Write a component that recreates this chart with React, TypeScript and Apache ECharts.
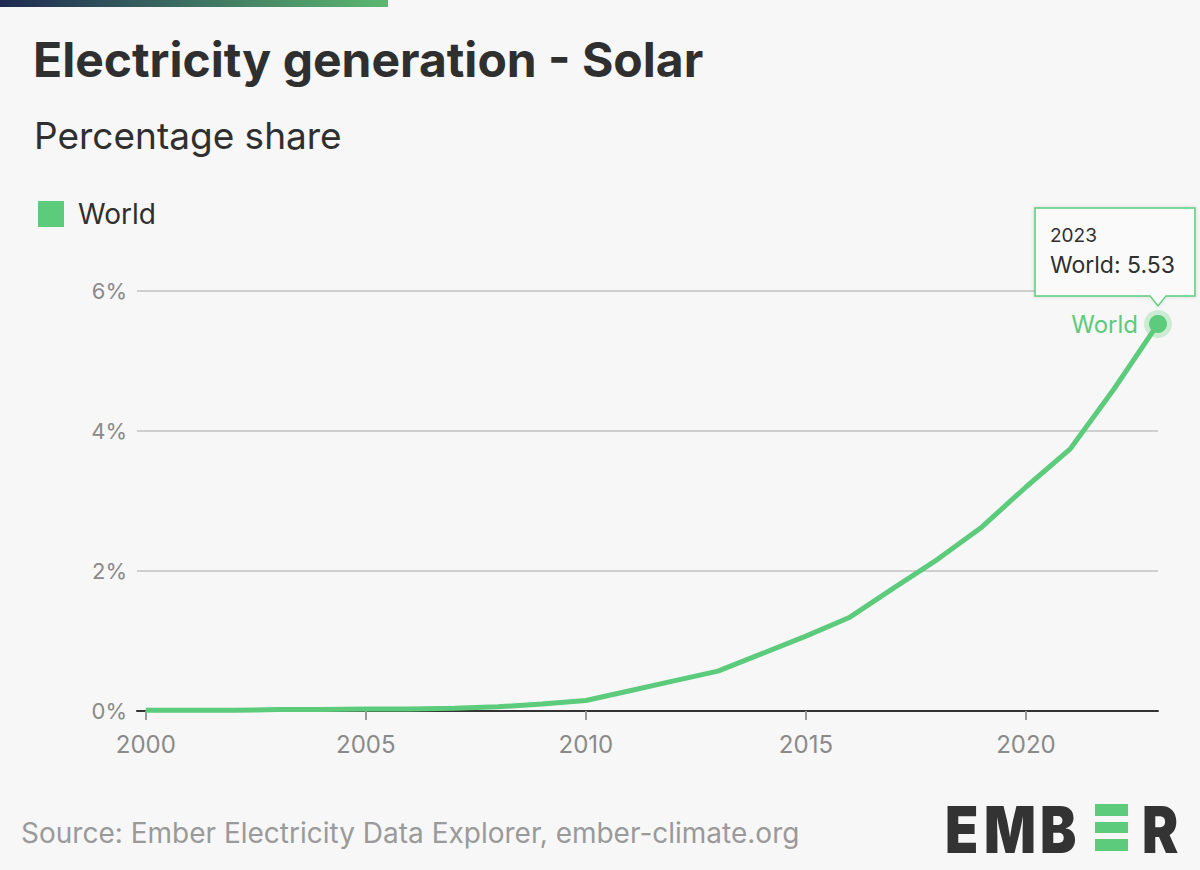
import React, { useEffect, useRef } from "react";
import * as echarts from "echarts";

const years = [2000,2001,2002,2003,2004,2005,2006,2007,2008,2009,2010,2011,2012,2013,2014,2015,2016,2017,2018,2019,2020,2021,2022,2023];
const worldShare = [0.01,0.01,0.01,0.02,0.02,0.03,0.03,0.04,0.06,0.10,0.15,0.29,0.43,0.57,0.82,1.07,1.34,1.76,2.17,2.63,3.20,3.74,4.60,5.53];
const xTickYears = [2000, 2005, 2010, 2015, 2020];
const seriesName = "World";
const yTicks = { min: 0, max: 6, interval: 2 };
const titleText = "Electricity generation - Solar";
const subtitleText = "Percentage share";
const sourceText = "Source: Ember Electricity Data Explorer, ember-climate.org";

const GREEN = "#5ccb7b";
const DARK = "#2f2f2f";
const FONT = "Inter, 'Noto Sans', sans-serif";

export default function App() {
  const ref = useRef<HTMLDivElement>(null);
  useEffect(() => {
    document.body.style.margin = "0";
    const chart = echarts.init(ref.current!, null, { renderer: "svg" });
    const lastIdx = years.length - 1;
    const logoLetter = (t: string, x: number) => ({
      type: "text", x, y: 829, scaleX: 0.85,
      style: { text: t, fontSize: 64, fontWeight: 900, fill: "#333", fontFamily: FONT, verticalAlign: "middle" },
    });
    const option: any = {
      animation: false,
      backgroundColor: "#f7f7f7",
      textStyle: { fontFamily: FONT },
      title: [
        { text: titleText, left: 28, top: 30, textStyle: { fontSize: 48, fontWeight: 700, color: DARK, fontFamily: FONT } },
        { text: subtitleText, left: 29, top: 112, textStyle: { fontSize: 37, fontWeight: 400, color: DARK, fontFamily: FONT } },
      ],
      legend: {
        left: 38, top: 200, padding: 0, icon: "rect", itemWidth: 26, itemHeight: 26, itemGap: 20,
        textStyle: { fontSize: 28, color: DARK, padding: [0, 0, 0, 9], fontFamily: FONT },
        data: [seriesName],
      },
      grid: { left: 137, right: 42, top: 291, bottom: 159 },
      xAxis: {
        type: "value", min: 1999.8, max: 2023,
        axisLine: { lineStyle: { color: "#333", width: 2 } },
        axisTick: { customValues: xTickYears, length: 9, lineStyle: { color: "#999", width: 2 } },
        axisLabel: { customValues: xTickYears, formatter: (v: number) => String(v), fontSize: 24, color: "#8a8a8a", margin: 21, fontFamily: FONT },
        splitLine: { show: false },
      },
      yAxis: {
        type: "value", min: yTicks.min, max: yTicks.max, interval: yTicks.interval,
        axisLine: { show: false }, axisTick: { show: false },
        axisLabel: { formatter: "{value}%", fontSize: 22, color: "#8a8a8a", margin: 10, fontFamily: FONT },
        splitLine: { lineStyle: { color: "#cfcfcf", width: 2 } },
      },
      series: [
        {
          name: seriesName, type: "line", data: years.map((y, i) => [y, worldShare[i]]), symbol: "none",
          lineStyle: { color: GREEN, width: 5 }, itemStyle: { color: GREEN }, z: 3,
        },
        {
          type: "custom", data: [[years[lastIdx], worldShare[lastIdx]]], z: 10, silent: true,
          renderItem: (params: any, api: any) => {
            const p = api.coord([api.value(0), api.value(1)]);
            const x = p[0], y = p[1];
            const left = x - 123, right = x + 37, top = y - 116, bottom = y - 28;
            return {
              type: "group",
              children: [
                { type: "circle", shape: { cx: x, cy: y, r: 14 }, style: { fill: "rgba(92,203,123,0.28)" } },
                { type: "circle", shape: { cx: x, cy: y, r: 9 }, style: { fill: GREEN } },
                { type: "text", style: { text: seriesName, x: x - 20, y: y + 1, align: "right", verticalAlign: "middle", fontSize: 24, fill: GREEN, fontFamily: FONT } },
                {
                  type: "polygon",
                  shape: { points: [[left, top], [right, top], [right, bottom], [x + 8, bottom], [x, bottom + 10], [x - 8, bottom], [left, bottom]] },
                  style: { fill: "#fafafa", stroke: GREEN, lineWidth: 1.5, shadowBlur: 4, shadowColor: "rgba(0,0,0,0.12)" },
                },
                { type: "text", style: { text: String(years[lastIdx]), x: left + 15, y: top + 28, verticalAlign: "middle", fontSize: 19, fill: DARK, fontFamily: FONT } },
                { type: "text", style: { text: `${seriesName}: ${worldShare[lastIdx]}`, x: left + 15, y: top + 57, verticalAlign: "middle", fontSize: 23, fill: DARK, fontFamily: FONT } },
              ],
            };
          },
        },
      ],
      graphic: [
        {
          type: "rect", left: 0, top: 0, shape: { width: 388, height: 7 },
          style: { fill: new echarts.graphic.LinearGradient(0, 0, 1, 0, [{ offset: 0, color: "#1f2a52" }, { offset: 1, color: "#5cb870" }]) },
        },
        { type: "text", x: 21, y: 833, style: { text: sourceText, fontSize: 28, fill: "#9a9a9a", fontFamily: FONT, verticalAlign: "middle" } },
        logoLetter("E", 945),
        logoLetter("M", 984),
        logoLetter("B", 1040),
        { type: "rect", shape: { x: 1095, y: 804, width: 33, height: 12 }, style: { fill: GREEN } },
        { type: "rect", shape: { x: 1095, y: 822, width: 33, height: 11 }, style: { fill: GREEN } },
        { type: "rect", shape: { x: 1095, y: 839, width: 33, height: 12 }, style: { fill: GREEN } },
        logoLetter("R", 1142),
      ],
    };
    chart.setOption(option);
    return () => chart.dispose();
  }, []);
  return <div ref={ref} style={{ width: 1200, height: 870 }} />;
}
